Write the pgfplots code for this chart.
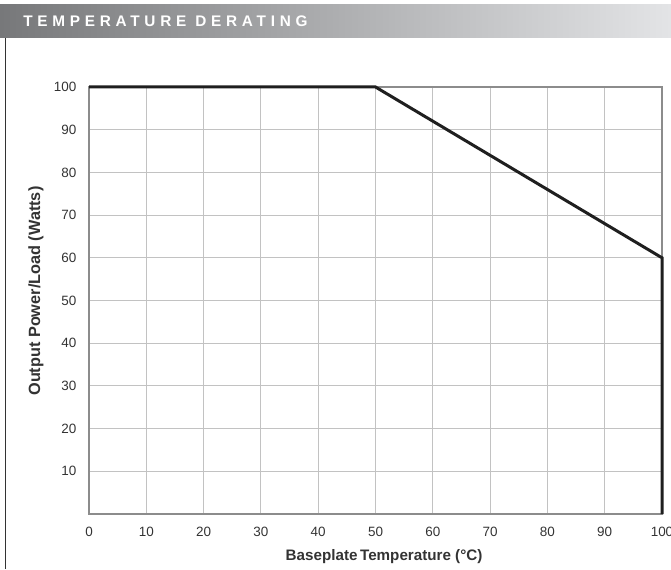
\documentclass[border=0pt]{standalone}
\usepackage{pgfplots}
\pgfplotsset{compat=1.18}
\usepackage{fontspec}
\setmainfont{Liberation Sans}
\newfontfamily\headfont[LetterSpace=31]{Liberation Sans Bold}
\definecolor{hdL}{HTML}{77787A}
\definecolor{hdR}{HTML}{E3E4E6}
\definecolor{gridc}{HTML}{C2C2C2}
\definecolor{axc}{HTML}{8C8C8C}
\definecolor{txt}{HTML}{333333}
\begin{document}
\begin{tikzpicture}[x=0.75pt,y=0.75pt]
\path[use as bounding box] (0,0) rectangle (671,569);
\shade[left color=hdL, right color=hdR] (0,531) rectangle (671,564);
\node[anchor=base west, inner sep=0, text=white, font=\headfont\fontsize{11.5}{13}\selectfont] at (23,542) {TEMPERATURE DERATING};
\draw[color=txt, line width=0.75pt] (5.5,531) -- (5.5,0);
\begin{axis}[
  at={(66.75pt,41.25pt)}, anchor=south west,
  scale only axis, width=429.75pt, height=320.25pt,
  xmin=0, xmax=100, ymin=0, ymax=100,
  xtick={0,10,...,100}, ytick={10,20,...,100},
  grid=major,
  grid style={color=gridc, line width=0.75pt},
  axis line style={color=axc, line width=0.9pt},
  major tick length=0pt,
  clip=false,
  /pgf/number format/assume math mode=true,
  ticklabel style={font=\fontsize{10.1}{11}\selectfont, text=txt},
  yticklabel shift=6pt,
  xticklabel shift=6pt,
  xlabel={Baseplate\,Temperature (°C)},
  ylabel={Output Power/Load (Watts)},
  xlabel style={at={(axis description cs:0.515,-0.1007)}, anchor=center, font=\bfseries\fontsize{11.4}{13}\selectfont, text=txt},
  ylabel style={at={(axis description cs:-0.0925,0.522)}, anchor=center, font=\bfseries\fontsize{12.2}{14}\selectfont, text=txt},
]
\addplot[color=black!88, line width=2.25pt, line join=miter] coordinates {(0,100) (50,100) (100,60) (100,0)};
\end{axis}
\end{tikzpicture}
\end{document}
